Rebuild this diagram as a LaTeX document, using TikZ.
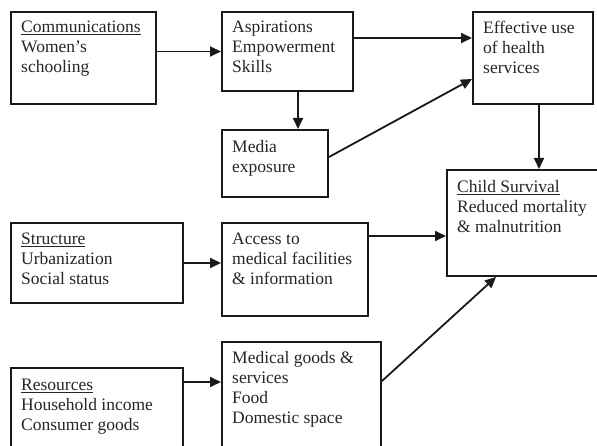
\documentclass[tikz,border=0pt]{standalone}
\usepackage{fontspec}
\setmainfont{Liberation Serif}
\usetikzlibrary{arrows.meta,calc}
\begin{document}
\begin{tikzpicture}[x=1pt,y=-1pt,
  box/.style={draw=black!90, line width=2pt, rectangle, inner sep=0pt},
  txt/.style={anchor=north west, inner sep=0pt, align=left, text=black!85,
    font=\fontsize{17.5}{20}\selectfont},
  arr/.style={draw=black!90, line width=1.8pt, -{Triangle[length=11pt,width=10pt]}}]
\useasboundingbox (0,0) rectangle (597,446);
\clip (0,0) rectangle (597,446);
% boxes
\node[box, minimum width=145pt, minimum height=92pt] (A) at (83.5,58) {};
\node[box, minimum width=131pt, minimum height=79pt] (B) at (287.5,51.5) {};
\node[box, minimum width=120pt, minimum height=92pt] (C) at (533,58) {};
\node[box, minimum width=106pt, minimum height=67pt] (D) at (275,163.5) {};
\node[box, minimum width=160pt, minimum height=106pt] (E) at (527,223) {};
\node[box, minimum width=172pt, minimum height=80pt] (F) at (97,263) {};
\node[box, minimum width=146pt, minimum height=93pt] (G) at (295,269.5) {};
\node[box, minimum width=172pt, minimum height=100pt] (H) at (97,418) {};
\node[box, minimum width=159pt, minimum height=120pt] (I) at (301.5,402) {};
% texts
\node[txt] (At) at ($(A.north west)+(11,10)$) {\underline{Communications}\\Women’s\\schooling};
\node[txt] (Bt) at ($(B.north west)+(11,10)$) {Aspirations\\Empowerment\\Skills};
\node[txt] (Ct) at ($(C.north west)+(11,10)$) {Effective use\\of health\\services};
\node[txt] (Dt) at ($(D.north west)+(11,11)$) {Media\\exposure};
\node[txt] (Et) at ($(E.north west)+(11,11)$) {\underline{Child Survival}\\Reduced mortality\\\& malnutrition};
\node[txt] (Ft) at ($(F.north west)+(11,11)$) {\underline{Structure}\\Urbanization\\Social status};
\node[txt] (Gt) at ($(G.north west)+(11,11)$) {Access to\\medical facilities\\\& information};
\node[txt] (Ht) at ($(H.north west)+(11,12)$) {\underline{Resources}\\Household income\\Consumer goods};
\node[txt] (It) at ($(I.north west)+(11,10)$) {Medical goods \&\\services\\Food\\Domestic space};
% connectors
\draw[arr] (A.east |- B.west) -- (B.west);
\draw[arr] ([xshift=10.5pt]B.south) -- ([xshift=10.5pt]B.south |- D.north);
\draw[arr] ([yshift=13.5pt]B.east) -- ([yshift=13.5pt]B.east -| C.west);
\draw[arr] ([yshift=6.5pt]D.east) -- ([yshift=-21pt]C.west);
\draw[arr] ([xshift=6pt]C.south) -- ([xshift=6pt]C.south |- E.north);
\draw[arr] (F.east) -- (F.east -| G.west);
\draw[arr] ([yshift=33.5pt]G.east) -- ([yshift=33.5pt]G.east -| E.west);
\draw[arr] ([yshift=-15pt]H.north east) -- ([yshift=-15pt]H.north east -| I.west);
\draw[arr] ([yshift=-40pt]I.north east) -- ([xshift=50pt]E.south west);
\end{tikzpicture}
\end{document}
